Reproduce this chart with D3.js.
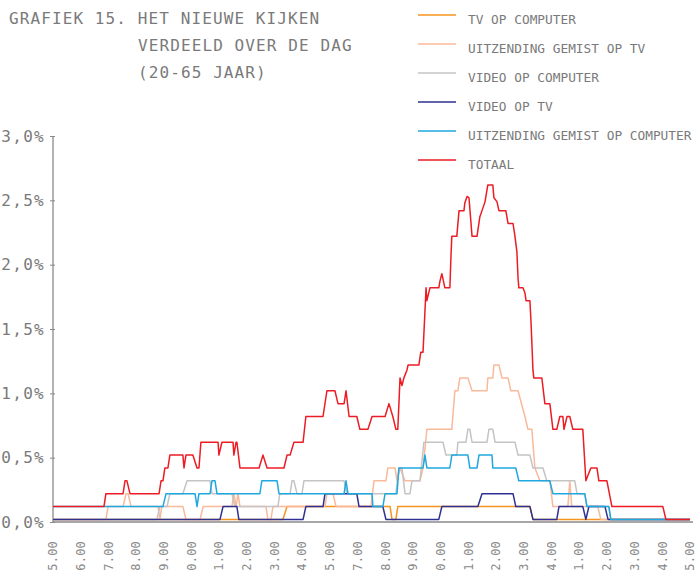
<!DOCTYPE html>
<html><head><meta charset="utf-8">
<script src="https://cdn.jsdelivr.net/npm/d3@7"></script>
<style>body{margin:0;background:#fff}svg{display:block}</style>
</head><body><svg id="c" width="698" height="570"></svg>
<script>
// ---------------- DATA ----------------
const titleLines = ["GRAFIEK 15. HET NIEUWE KIJKEN", "VERDEELD OVER DE DAG", "(20-65 JAAR)"];
const tickLabels = ["5.00","6.00","7.00","8.00","9.00","10.00","11.00","12.00","13.00","14.00","15.00",
  "17.00","18.00","19.00","20.00","21.00","22.00","23.00","24.00","1.00","2.00","3.00","4.00","5.00"];
const yTicks = [0, 0.5, 1.0, 1.5, 2.0, 2.5, 3.0];
const seriesNames = ["TV OP COMPUTER","UITZENDING GEMIST OP TV","VIDEO OP COMPUTER","VIDEO OP TV","UITZENDING GEMIST OP COMPUTER","TOTAAL"];
// [time slot (0 = first tick), percentage]
const tvOpComputer = [[0,.02],[8.30,.02],[8.45,.12],[12.17,.12],[12.24,.02],[12.38,.02],[12.45,.12],[17.22,.12],[17.33,.02],[23,.02]];
const gemistOpTv = [[0,.02],[1.91,.02],[1.99,.12],[2.53,.12],[2.64,.22],[2.71,.22],[2.82,.12],[3.79,.12],[3.86,.02],[3.93,.12],
  [4.69,.12],[4.80,.02],[5.31,.02],[5.42,.12],[6.46,.12],[6.53,.22],[6.61,.12],[6.68,.22],[6.75,.12],[7.69,.12],[7.76,.02],
  [7.87,.02],[7.94,.12],[9.82,.12],[9.89,.22],[10.11,.22],[10.22,.12],[11.48,.12],[11.59,.32],[12.02,.32],[12.09,.42],
  [12.35,.42],[12.42,.32],[12.53,.42],[12.71,.32],[13.25,.32],[13.36,.42],[13.50,.72],[14.40,.72],[14.51,1.02],[14.62,1.02],
  [14.69,1.12],[14.98,1.12],[15.13,1.02],[15.67,1.02],[15.70,1.12],[15.88,1.12],[15.92,1.22],[16.10,1.22],[16.21,1.12],
  [16.43,1.12],[16.53,1.02],[16.79,1.02],[17.04,.82],[17.15,.72],[17.29,.72],[17.40,.42],[17.58,.32],[17.94,.32],[18.05,.12],
  [18.59,.12],[18.66,.32],[18.73,.12],[19.67,.12],[19.78,.02],[23,.02]];
const videoOpComputer = [[0,.02],[3.75,.02],[3.86,.12],[4.12,.12],[4.22,.22],[4.69,.22],[4.84,.32],[5.67,.32],[5.74,.22],
  [6.46,.22],[6.57,.12],[8.12,.12],[8.19,.22],[8.56,.22],[8.63,.32],[8.70,.32],[8.81,.22],[8.99,.22],[9.06,.32],[10.51,.32],
  [10.61,.22],[12.38,.22],[12.49,.42],[12.60,.42],[12.71,.22],[12.89,.22],[12.96,.32],[13.25,.32],[13.39,.62],[14.08,.62],
  [14.19,.52],[14.58,.52],[14.62,.62],[14.91,.62],[14.98,.72],[15.05,.72],[15.13,.62],[15.67,.62],[15.74,.72],[15.88,.72],
  [15.96,.62],[16.68,.62],[16.79,.52],[17.22,.52],[17.33,.42],[17.69,.42],[17.83,.32],[18.84,.32],[18.92,.22],[19.20,.22],
  [19.28,.12],[20.07,.12],[20.14,.02],[23,.02]];
const videoOpTv = [[0,.02],[6.03,.02],[6.14,.12],[6.64,.12],[6.71,.02],[9.03,.02],[9.13,.12],[9.75,.12],[9.82,.22],[10.97,.22],
  [11.05,.12],[11.91,.12],[12.02,.02],[13.93,.02],[14.04,.12],[15.34,.12],[15.49,.22],[16.61,.22],[16.71,.12],[17.22,.12],
  [17.33,.02],[18.19,.02],[18.27,.12],[19.13,.12],[19.24,.02],[19.35,.12],[19.93,.12],[20.04,.02],[23,.02]];
const gemistOpComputer = [[0,.12],[3.97,.12],[4.08,.22],[5.13,.22],[5.20,.12],[5.27,.22],[5.67,.22],[5.74,.32],[5.85,.32],
  [5.92,.22],[7.47,.22],[7.54,.32],[8.09,.32],[8.16,.22],[10.51,.22],[10.58,.32],[10.65,.22],[11.52,.22],[11.55,.12],[11.91,.12],
  [11.99,.22],[12.42,.22],[12.49,.42],[13.36,.42],[13.43,.52],[13.50,.42],[14.33,.42],[14.40,.52],[14.98,.52],[15.05,.42],
  [15.31,.42],[15.38,.52],[15.85,.52],[15.88,.42],[16.71,.42],[16.82,.32],[17.94,.32],[18.05,.22],[19.20,.22],[19.28,.12],
  [20.07,.12],[20.14,.02],[23,.02]];
const totaal = [[0,.12],[1.84,.12],[1.91,.22],[2.53,.22],[2.60,.32],[2.67,.32],[2.78,.22],[3.83,.22],[3.90,.32],[3.97,.32],
  [4.04,.42],[4.15,.42],[4.22,.52],[4.69,.52],[4.73,.42],[4.80,.52],[5.05,.52],[5.20,.42],[5.27,.42],[5.34,.62],[5.96,.62],
  [5.99,.52],[6.10,.62],[6.50,.62],[6.53,.52],[6.61,.62],[6.64,.62],[6.75,.42],[7.44,.42],[7.58,.52],[7.73,.42],[8.34,.42],
  [8.45,.52],[8.56,.52],[8.70,.62],[9.03,.62],[9.13,.82],[9.75,.82],[9.89,1.02],[10.18,1.02],[10.29,.92],[10.51,.92],
  [10.58,1.02],[10.69,.82],[10.97,.82],[11.08,.72],[11.37,.72],[11.52,.82],[11.99,.82],[12.13,.92],[12.27,.82],[12.38,.72],
  [12.45,.72],[12.53,1.12],[12.60,1.06],[12.67,1.12],[12.78,1.18],[12.82,1.22],[13.21,1.22],[13.28,1.32],[13.36,1.32],
  [13.47,1.82],[13.50,1.72],[13.61,1.82],[13.93,1.82],[13.97,1.87],[14.04,1.93],[14.15,1.82],[14.33,1.82],[14.37,2.07],
  [14.40,2.22],[14.58,2.22],[14.66,2.42],[14.84,2.42],[14.87,2.48],[14.95,2.53],[15.02,2.52],[15.13,2.22],[15.31,2.22],
  [15.41,2.37],[15.49,2.42],[15.60,2.49],[15.70,2.62],[15.88,2.62],[15.92,2.52],[16.03,2.49],[16.10,2.42],[16.35,2.42],
  [16.43,2.32],[16.61,2.32],[16.68,2.22],[16.75,2.10],[16.79,1.90],[16.82,1.82],[16.97,1.82],[17.04,1.78],[17.08,1.72],
  [17.22,1.72],[17.26,1.55],[17.33,1.18],[17.36,1.12],[17.65,1.12],[17.76,.92],[17.94,.92],[18.05,.72],[18.19,.72],
  [18.30,.82],[18.41,.82],[18.45,.72],[18.56,.82],[18.66,.82],[18.77,.72],[19.13,.72],[19.24,.32],[19.42,.42],[19.64,.42],
  [19.71,.32],[20.00,.32],[20.18,.12],[22.02,.12],[22.13,.02],[23,.02]];
const seriesData = [tvOpComputer, gemistOpTv, videoOpComputer, videoOpTv, gemistOpComputer, totaal];

// ---------------- STYLE / LAYOUT ----------------
const colors = ["#f7941d", "#f9b99a", "#c4c4c4", "#2e3192", "#1fa8e0", "#ed1c24"];
const textColor = "#7a7a7a";
const mono = "'DejaVu Sans Mono', monospace";
const svg = d3.select("#c");
const x = d3.scaleLinear().domain([0, tickLabels.length - 1]).range([53, 690]);
const y = d3.scaleLinear().domain([0, 3]).range([522, 136]);

// title
const tl = svg.append("g").attr("fill", textColor).style("font-family", mono)
  .style("font-size", "16px").style("letter-spacing", "1.1px");
titleLines.forEach((t, i) => {
  tl.append("text").attr("x", i === 0 ? 9 : 138).attr("y", 24 + i * 27).text(t);
});

// axes
svg.append("line").attr("x1", 53).attr("x2", 53).attr("y1", y(3)).attr("y2", y(0))
  .attr("stroke", "#8a8a8a").attr("stroke-width", 1.3);
svg.append("line").attr("x1", 53).attr("x2", 693).attr("y1", y(0)).attr("y2", y(0))
  .attr("stroke", "#8a8a8a").attr("stroke-width", 1.5);
const ya = svg.append("g").attr("transform", "translate(53,0)")
  .call(d3.axisLeft(y).tickValues(yTicks).tickSize(3).tickPadding(6)
    .tickFormat(d => d.toFixed(1).replace(".", ",") + "%"));
ya.select(".domain").remove();
ya.selectAll(".tick line").attr("stroke", "#8a8a8a").attr("x2", -3).attr("x1", 2);
ya.selectAll("text").attr("fill", textColor).style("font-family", mono)
  .style("font-size", "16px").style("letter-spacing", "1.3px").attr("x", -8);

// x labels
svg.append("g").selectAll("text").data(tickLabels).join("text")
  .attr("transform", (d, i) => `translate(${x(i)},541) rotate(-90)`)
  .attr("text-anchor", "end").attr("dy", "0.35em")
  .attr("fill", "#8a8a8a").style("font-family", mono).style("font-size", "12px")
  .style("letter-spacing", "0.2px")
  .text(d => d);

// lines
const line = d3.line().x(d => x(d[0])).y(d => y(d[1]));
svg.append("g").selectAll("path").data(seriesData).join("path")
  .attr("d", line).attr("fill", "none")
  .attr("stroke", (d, i) => colors[i]).attr("stroke-width", 1.5)
  .attr("stroke-linejoin", "round");

// legend
const lg = svg.append("g");
seriesNames.forEach((n, i) => {
  const yy = 15 + i * 29;
  lg.append("line").attr("x1", 418).attr("x2", 456).attr("y1", yy).attr("y2", yy)
    .attr("stroke", colors[i]).attr("stroke-width", 1.5);
  lg.append("text").attr("x", 468).attr("y", yy + 9).text(n)
    .attr("fill", textColor).style("font-family", mono).style("font-size", "12.8px");
});
</script></body></html>
